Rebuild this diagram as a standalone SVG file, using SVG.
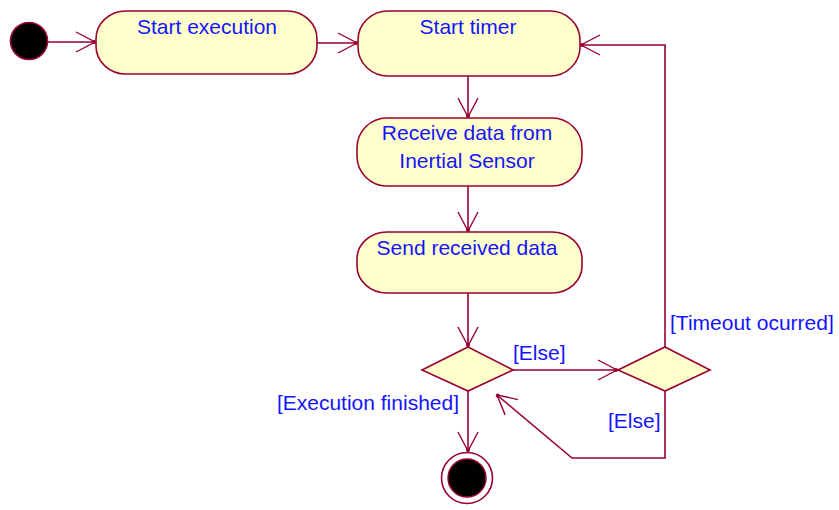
<svg xmlns="http://www.w3.org/2000/svg" width="839" height="510" viewBox="0 0 839 510">
  <style>
    .act { fill: #FFFFCC; stroke: #990033; stroke-width: 1.6; }
    .dec { fill: #FFFFCC; stroke: #990033; stroke-width: 1.6; }
    .edge { fill: none; stroke: #990033; stroke-width: 1.6; marker-end: url(#arrow); }
    .lbl { font-family: "Liberation Sans", Arial, sans-serif; font-size: 21px; fill: #1414FF; }
    .mid { text-anchor: middle; }
    .end { text-anchor: end; }
  </style>
  <defs>
    <marker id="arrow" markerUnits="userSpaceOnUse" markerWidth="24" markerHeight="26" viewBox="-22 -13 24 26" refX="0" refY="0" orient="auto">
      <path d="M-19,-10 L0,0 L-19,10" fill="none" stroke="#990033" stroke-width="1.4"/>
      <circle cx="-1" cy="0" r="2" fill="#990033"/>
    </marker>
  </defs>
  <rect width="839" height="510" fill="#FFFFFF"/>

  <g id="connectors">
    <line class="edge" x1="48" y1="42" x2="95" y2="42"/>
    <line class="edge" x1="317" y1="43" x2="357" y2="43"/>
    <line class="edge" x1="468" y1="76" x2="468" y2="117"/>
    <line class="edge" x1="468" y1="186" x2="468" y2="231"/>
    <line class="edge" x1="468" y1="293" x2="468" y2="346"/>
    <line class="edge" x1="513" y1="370" x2="617" y2="370"/>
    <line class="edge" x1="468" y1="391" x2="468" y2="451"/>
    <polyline class="edge" points="665,347 665,45 581,45"/>
    <polyline class="edge" points="665,391 665,458 572,458 497,395"/>
  </g>

  <g id="initial">
    <circle cx="29" cy="41" r="18.5" fill="#000000" stroke="#990033" stroke-width="1.6"/>
  </g>

  <g id="start-execution">
    <rect class="act" x="96" y="11" width="221" height="63" rx="30" ry="28"/>
    <text class="lbl mid" x="207" y="34">Start execution</text>
  </g>

  <g id="start-timer">
    <rect class="act" x="358" y="11" width="222" height="65" rx="30" ry="29"/>
    <text class="lbl mid" x="468" y="34">Start timer</text>
  </g>

  <g id="receive-data">
    <rect class="act" x="357" y="118" width="225" height="68" rx="30" ry="30"/>
    <text class="lbl mid" x="467" y="140">Receive data from</text>
    <text class="lbl mid" x="467" y="168">Inertial Sensor</text>
  </g>

  <g id="send-data">
    <rect class="act" x="357" y="232" width="225" height="61" rx="30" ry="27"/>
    <text class="lbl mid" x="467" y="255">Send received data</text>
  </g>

  <g id="decision-finished">
    <polygon class="dec" points="468,347 513,370 468,391 422,370"/>
    <text class="lbl end" x="459" y="410">[Execution finished]</text>
    <text class="lbl" x="513" y="360">[Else]</text>
  </g>

  <g id="decision-timeout">
    <polygon class="dec" points="665,347 710,370 665,391 618,370"/>
    <text class="lbl" x="670" y="330">[Timeout ocurred]</text>
    <text class="lbl" x="608" y="428">[Else]</text>
  </g>

  <g id="final">
    <circle cx="467" cy="478" r="25.5" fill="#FFFFFF" stroke="#990033" stroke-width="1.6"/>
    <circle cx="467" cy="478" r="19" fill="#000000" stroke="#990033" stroke-width="1.4"/>
  </g>
</svg>
